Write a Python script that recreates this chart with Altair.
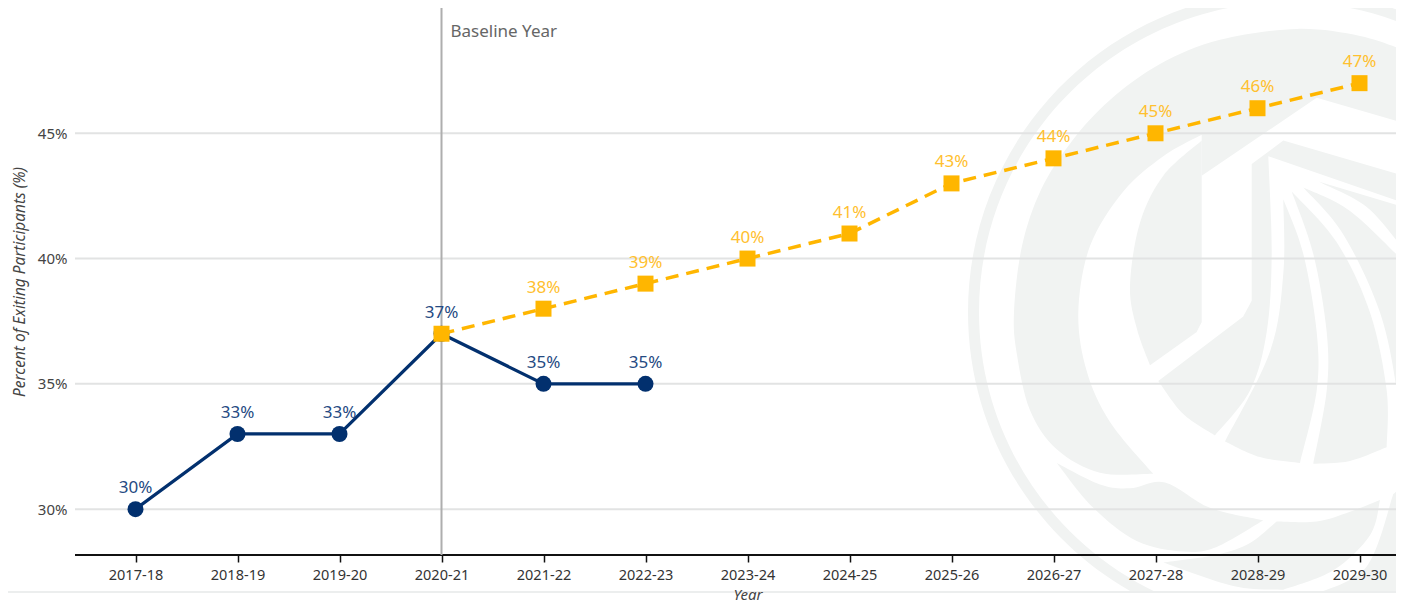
import altair as alt
import pandas as pd

years = ["2017-18","2018-19","2019-20","2020-21","2021-22","2022-23","2023-24",
         "2024-25","2025-26","2026-27","2027-28","2028-29","2029-30"]
actual_years = years[:6]
actual_values = [30, 33, 33, 37, 35, 35]
target_years = years[3:]
target_values = [37, 38, 39, 40, 41, 43, 44, 45, 46, 47]
y_ticks = [30, 35, 40, 45]
baseline_year = "2020-21"

FONT = "Noto Sans"
NAVY = "#02306e"
GOLD = "#ffb600"
WM = "#f1f3f2"
W = 1321

# ---- decorative background watermark (not data) ----
def P(z):
    return (950 + z[0] / 3, z[1] / 2.56)

def smooth(runs):
    out = []
    first = P(runs[0][0])
    out.append(f"M{first[0]:.1f} {first[1]:.1f}")
    for run in runs:
        pts = [P(p) for p in run]
        s0 = pts[0]
        out.append(f"L{s0[0]:.1f} {s0[1]:.1f}")
        for i in range(len(pts) - 1):
            p0 = pts[max(i - 1, 0)]
            p1 = pts[i]
            p2 = pts[i + 1]
            p3 = pts[min(i + 2, len(pts) - 1)]
            c1 = (p1[0] + (p2[0] - p0[0]) / 6, p1[1] + (p2[1] - p0[1]) / 6)
            c2 = (p2[0] - (p3[0] - p1[0]) / 6, p2[1] - (p3[1] - p1[1]) / 6)
            out.append(f"C{c1[0]:.1f} {c1[1]:.1f} {c2[0]:.1f} {c2[1]:.1f} {p2[0]:.1f} {p2[1]:.1f}")
    out.append("Z")
    return "".join(out)

ring = ("M968 312A321 321 0 1 1 1610 312A321 321 0 1 1 968 312Z"
        "M979 312A310 310 0 1 0 1599 312A310 310 0 1 0 979 312Z")

shapes = [
    ring,
    smooth([[(1362,128),(1230,92),(1041,74),(810,102),(630,164),(480,256),(366,361),(273,486),(216,630),
             (192,799),(201,909),(240,1050),(320,1150),(450,1210),(610,1213)],
            [(610,1213),(480,1080),(410,950),(385,800),(420,630),(520,490),(640,400),(755,345)],
            [(755,450)],[(1100,250)],[(1362,315)]]),
    smooth([[(755,360),(640,450),(570,570),(540,730),(560,840),(600,935)],
            [(740,850),(755,825)],[(755,360)]]),
    smooth([[(625,975)],[(880,810),(905,770)],[(905,420)],[(1000,360)],[(1362,450)],[(1362,520)],
            [(955,400),(965,650),(950,850),(900,1000),(795,1115)],
            [(795,1115),(700,1060),(625,975)]]),
    smooth([[(1000,510),(1000,700),(960,900),(825,1130)],
            [(825,1130),(930,1170),(1050,1185)],
            [(1050,1185),(1100,1000),(1100,850),(1060,650),(1000,510)]]),
    smooth([[(1025,490),(1090,650),(1130,850),(1130,1000),(1090,1187)],
            [(1090,1187),(1200,1180),(1310,1145)],
            [(1310,1145),(1310,1000),(1260,800),(1160,620),(1025,490)]]),
    smooth([[(1060,480),(1180,600),(1290,800),(1340,1000),(1345,1130)],
            [(1362,1125)],[(1362,670)],[(1362,670),(1200,540),(1060,480)]]),
    smooth([[(1105,465),(1250,530),(1362,640)],[(1362,530)]]),
    smooth([[(320,1185),(450,1240),(540,1250),(645,1235),(780,1300),(940,1332)],
            [(940,1332),(800,1400),(700,1412),(560,1385),(430,1300),(320,1185)]]),
    smooth([[(980,1335),(1100,1335),(1200,1310),(1290,1280)],
            [(1290,1280),(1260,1370),(1150,1460),(1000,1510)],
            [(1000,1510),(850,1500),(640,1440)],
            [(640,1440),(800,1420),(900,1390),(980,1335)]]),
    smooth([[(1330,1265),(1362,1240)],[(1362,1520)],[(1100,1520)],[(1100,1520),(1250,1450),(1330,1265)]]),
]

one = pd.DataFrame({"a": [0]})
wm_layers = [
    alt.Chart(one).mark_point(shape=s, size=4, filled=True, fill=WM, stroke=None, opacity=1).encode(
        x=alt.value(-75), y=alt.value(-8))
    for s in shapes
]
mask = alt.Chart(one).mark_rect(color="white").encode(
    x=alt.value(-75), x2=alt.value(W), y=alt.value(584), y2=alt.value(596))
footline = alt.Chart(one).mark_rule(color="#eceeee", strokeWidth=2).encode(
    x=alt.value(-75), x2=alt.value(W), y=alt.value(584))

# ---- data layers ----
x_scale = alt.Scale(type="point", domain=years, range=[60.5, 1284.5], padding=0)
y_scale = alt.Scale(domain=[28.17, 50], nice=False, zero=False)

x_enc = alt.X("year:N", scale=x_scale, sort=years, axis=alt.Axis(
    title="Year", titleFont=FONT, titleFontStyle="italic", titleFontWeight="normal",
    titleFontSize=15, titleColor="#444444", titlePadding=6,
    labelFont=FONT, labelFontSize=14.5, labelColor="#333333", labelAngle=0, labelPadding=6,
    domain=False, ticks=True, tickColor="#111111", tickSize=7, tickWidth=1.5,
    grid=False, zindex=1))
y_enc = alt.Y("value:Q", scale=y_scale, axis=alt.Axis(
    title="Percent of Exiting Participants (%)", titleFont=FONT, titleFontStyle="italic",
    titleFontWeight="normal", titleFontSize=15.4, titleColor="#444444", titlePadding=10,
    labelFont=FONT, labelFontSize=15, labelColor="#444444", labelPadding=8,
    values=y_ticks, labelExpr="datum.value + '%'",
    domain=False, ticks=False, grid=False))

actual = pd.DataFrame({"year": actual_years, "value": actual_values})
target = pd.DataFrame({"year": target_years, "value": target_values})
ticks_df = pd.DataFrame({"value": y_ticks})
base_df = pd.DataFrame({"year": [baseline_year], "label": ["Baseline Year"]})

grid = alt.Chart(ticks_df).mark_rule(color="#e2e3e3", strokeWidth=2).encode(y=y_enc)
axis_line = alt.Chart(one).mark_rule(color="#111111", strokeWidth=2).encode(
    x=alt.value(0), x2=alt.value(W), y=alt.value(547))
base_rule = alt.Chart(base_df).mark_rule(color="#aeaeae", strokeWidth=2).encode(x=x_enc)
base_text = alt.Chart(base_df).mark_text(
    align="left", baseline="middle", dx=9, font=FONT, fontSize=17, color="#666666"
).encode(x=x_enc, y=alt.value(23.5), text="label:N")

navy_line = alt.Chart(actual).mark_line(color=NAVY, strokeWidth=3.2).encode(x=x_enc, y=y_enc)
navy_pts = alt.Chart(actual).mark_point(shape="circle", filled=True, size=256, color=NAVY, opacity=1).encode(x=x_enc, y=y_enc)
navy_lbl = (alt.Chart(actual).transform_calculate(lbl="datum.value + '%'")
            .mark_text(baseline="middle", dy=-21, font=FONT, fontSize=17, color="#254a82")
            .encode(x=x_enc, y=y_enc, text="lbl:N"))

gold_line = alt.Chart(target).mark_line(color=GOLD, strokeWidth=3.5, strokeDash=[13, 8]).encode(x=x_enc, y=y_enc)
gold_pts = alt.Chart(target).mark_point(shape="square", filled=True, size=256, color=GOLD, opacity=1).encode(x=x_enc, y=y_enc)
gold_lbl = (alt.Chart(target[1:]).transform_calculate(lbl="datum.value + '%'")
            .mark_text(baseline="middle", dy=-21, font=FONT, fontSize=17, color="#ffc02e")
            .encode(x=x_enc, y=y_enc, text="lbl:N"))

chart = alt.layer(
    *wm_layers, mask, footline, grid, axis_line, base_rule, base_text,
    navy_line, navy_pts, navy_lbl, gold_line, gold_pts, gold_lbl
).properties(
    width=W, height=547,
    padding={"left": 67, "top": 0, "right": 0, "bottom": 49},
    autosize=alt.AutoSizeParams(type="none"),
    background="white",
).configure_view(stroke=None)

chart.save("out.html", embed_options={"renderer": "svg", "actions": False})
